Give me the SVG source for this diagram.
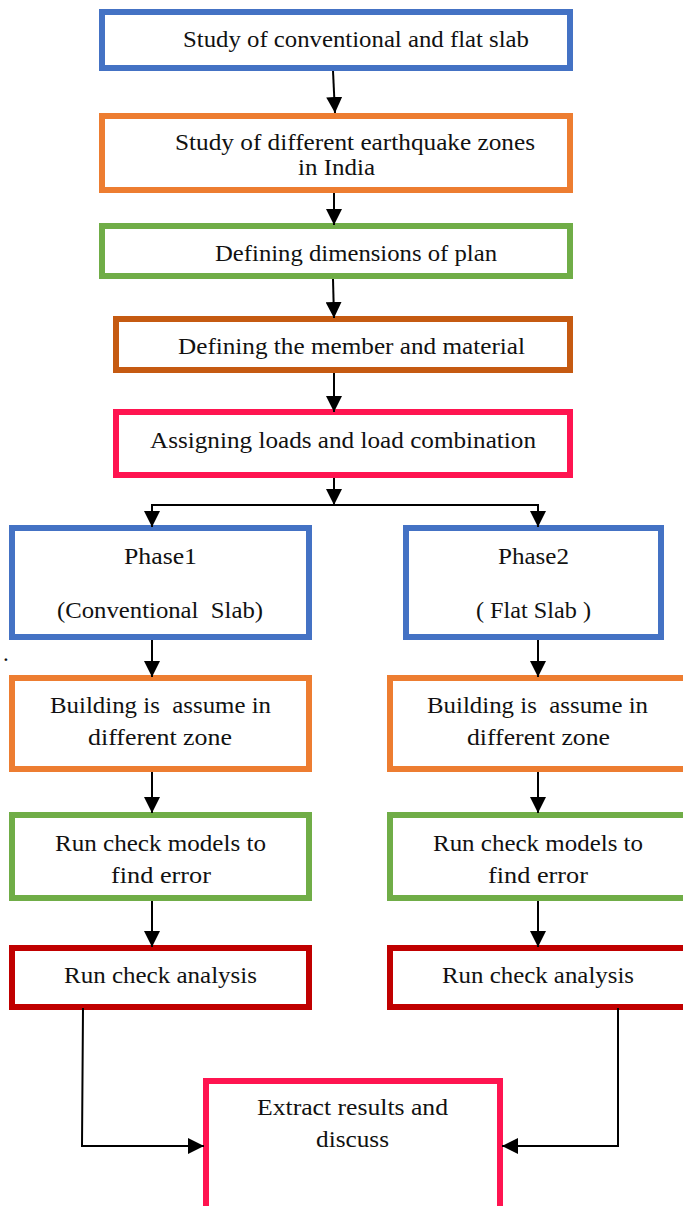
<svg xmlns="http://www.w3.org/2000/svg" width="683" height="1206" viewBox="0 0 683 1206">
<style>
  .box { fill: #ffffff; stroke-width: 6; }
  .blue { stroke: #4472C4; }
  .orange { stroke: #ED7D31; }
  .green { stroke: #70AD47; }
  .brown { stroke: #C55A11; }
  .pink { stroke: #FF1450; }
  .red { stroke: #C00000; }
  .t { font-family: "Liberation Serif", "DejaVu Serif", serif; fill: #111111; }
  .big { font-size: 24px; }
  .small { font-size: 23px; }
  .conn { fill: none; stroke: #000000; stroke-width: 2; }
</style>
<defs>
  <marker id="arrow" markerUnits="userSpaceOnUse" markerWidth="16" markerHeight="16" refX="16" refY="8" orient="auto" viewBox="0 0 16 16">
    <path d="M0,0 L16,8 L0,16 z" fill="#000000"/>
  </marker>
</defs>
<rect width="683" height="1206" fill="#ffffff"/>

<g id="n1">
  <rect class="box blue" x="102" y="12" width="468" height="56"/>
  <text class="t big" x="183" y="47" textLength="346" lengthAdjust="spacingAndGlyphs">Study of conventional and flat slab</text>
</g>
<g id="n2">
  <rect class="box orange" x="102" y="116" width="468" height="74"/>
  <text class="t big" x="175" y="150" textLength="360" lengthAdjust="spacingAndGlyphs">Study of different earthquake zones</text>
  <text class="t big" x="298" y="175" textLength="77" lengthAdjust="spacingAndGlyphs">in India</text>
</g>
<g id="n3">
  <rect class="box green" x="102" y="226" width="468" height="50"/>
  <text class="t big" x="215" y="261" textLength="282" lengthAdjust="spacingAndGlyphs">Defining dimensions of plan</text>
</g>
<g id="n4">
  <rect class="box brown" x="116" y="319" width="454" height="51"/>
  <text class="t big" x="178" y="354" textLength="347" lengthAdjust="spacingAndGlyphs">Defining the member and material</text>
</g>
<g id="n5">
  <rect class="box pink" x="116" y="412" width="454" height="63"/>
  <text class="t big" x="150" y="448" textLength="386" lengthAdjust="spacingAndGlyphs">Assigning loads and load combination</text>
</g>
<g id="p1">
  <rect class="box blue" x="12" y="528" width="297" height="109"/>
  <text class="t small" x="124" y="564" textLength="73" lengthAdjust="spacingAndGlyphs">Phase1</text>
  <text class="t small" x="57" y="618" textLength="206" lengthAdjust="spacingAndGlyphs" xml:space="preserve">(Conventional  Slab)</text>
</g>
<g id="p2">
  <rect class="box blue" x="406" y="528" width="255" height="109"/>
  <text class="t small" x="498" y="564" textLength="71" lengthAdjust="spacingAndGlyphs">Phase2</text>
  <text class="t small" x="476" y="618" textLength="115" lengthAdjust="spacingAndGlyphs" xml:space="preserve">( Flat Slab )</text>
</g>
<g id="o1">
  <rect class="box orange" x="12" y="678" width="297" height="91"/>
  <text class="t small" x="50" y="713" textLength="221" lengthAdjust="spacingAndGlyphs" xml:space="preserve">Building is  assume in</text>
  <text class="t small" x="88" y="745" textLength="144" lengthAdjust="spacingAndGlyphs">different zone</text>
</g>
<g id="o2">
  <rect class="box orange" x="390" y="678" width="297" height="91"/>
  <text class="t small" x="427" y="713" textLength="221" lengthAdjust="spacingAndGlyphs" xml:space="preserve">Building is  assume in</text>
  <text class="t small" x="467" y="745" textLength="143" lengthAdjust="spacingAndGlyphs">different zone</text>
</g>
<g id="g1">
  <rect class="box green" x="12" y="815" width="297" height="83"/>
  <text class="t small" x="55" y="851" textLength="211" lengthAdjust="spacingAndGlyphs">Run check models to</text>
  <text class="t small" x="111" y="883" textLength="100" lengthAdjust="spacingAndGlyphs">find error</text>
</g>
<g id="g2">
  <rect class="box green" x="390" y="815" width="297" height="83"/>
  <text class="t small" x="433" y="851" textLength="210" lengthAdjust="spacingAndGlyphs">Run check models to</text>
  <text class="t small" x="488" y="883" textLength="100" lengthAdjust="spacingAndGlyphs">find error</text>
</g>
<g id="r1">
  <rect class="box red" x="12" y="948" width="297" height="59"/>
  <text class="t small" x="64" y="983" textLength="193" lengthAdjust="spacingAndGlyphs">Run check analysis</text>
</g>
<g id="r2">
  <rect class="box red" x="390" y="948" width="297" height="59"/>
  <text class="t small" x="442" y="983" textLength="192" lengthAdjust="spacingAndGlyphs">Run check analysis</text>
</g>
<g id="final">
  <rect class="box pink" x="206" y="1081" width="294" height="140"/>
  <text class="t small" x="257" y="1115" textLength="191" lengthAdjust="spacingAndGlyphs">Extract results and</text>
  <text class="t small" x="316" y="1147" textLength="73" lengthAdjust="spacingAndGlyphs">discuss</text>
</g>
<g id="stray">
  <text class="t small" x="3" y="661">.</text>
</g>

<g id="connectors">
  <line class="conn" x1="333" y1="71" x2="335" y2="113" marker-end="url(#arrow)"/>
  <line class="conn" x1="334" y1="193" x2="334" y2="225" marker-end="url(#arrow)"/>
  <line class="conn" x1="333" y1="279" x2="334" y2="318" marker-end="url(#arrow)"/>
  <line class="conn" x1="334" y1="373" x2="334" y2="412" marker-end="url(#arrow)"/>
  <line class="conn" x1="334" y1="478" x2="334" y2="505" marker-end="url(#arrow)"/>
  <line class="conn" x1="151" y1="505" x2="539" y2="505"/>
  <line class="conn" x1="152" y1="505" x2="152" y2="527" marker-end="url(#arrow)"/>
  <line class="conn" x1="538" y1="505" x2="538" y2="527" marker-end="url(#arrow)"/>
  <line class="conn" x1="152" y1="640" x2="152" y2="677" marker-end="url(#arrow)"/>
  <line class="conn" x1="538" y1="640" x2="538" y2="677" marker-end="url(#arrow)"/>
  <line class="conn" x1="152" y1="772" x2="152" y2="813" marker-end="url(#arrow)"/>
  <line class="conn" x1="538" y1="772" x2="538" y2="813" marker-end="url(#arrow)"/>
  <line class="conn" x1="152" y1="901" x2="152" y2="947" marker-end="url(#arrow)"/>
  <line class="conn" x1="538" y1="901" x2="538" y2="947" marker-end="url(#arrow)"/>
  <path class="conn" d="M83,1008 L82,1146 L204,1146" marker-end="url(#arrow)"/>
  <path class="conn" d="M618,1008 L618,1146 L502,1146" marker-end="url(#arrow)"/>
</g>
</svg>
